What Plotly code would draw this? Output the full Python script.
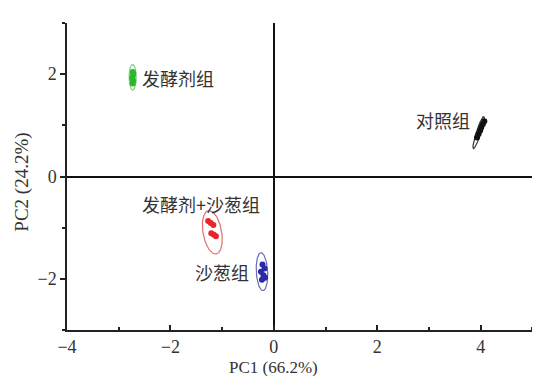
import numpy as np
import plotly.graph_objects as go

# Data
groups = ["发酵剂组", "对照组", "发酵剂+沙葱组", "沙葱组"]
colors = ["#2fb52f", "#111111", "#e8262a", "#2a2aa8"]
ell_colors = ["#7fd07f", "#333333", "#e07070", "#6a6ab8"]

green_x = [-2.73, -2.72, -2.74, -2.73, -2.72, -2.73]
green_y = [1.82, 1.87, 1.92, 1.96, 2.01, 2.04]
black_x = [3.93, 3.96, 3.99, 4.01, 4.04, 4.07]
black_y = [0.76, 0.83, 0.90, 0.96, 1.02, 1.08]
red_x = [-1.27, -1.22, -1.17, -1.21, -1.16, -1.12]
red_y = [-0.87, -0.91, -0.95, -1.11, -1.14, -1.17]
blue_x = [-0.22, -0.18, -0.25, -0.20, -0.17, -0.23]
blue_y = [-1.72, -1.80, -1.86, -1.93, -1.98, -2.02]

# ellipse parameters: centre, semi-major, semi-minor, angle (deg)
ell_cx = [-2.73, 3.96, -1.19, -0.23]
ell_cy = [1.94, 0.86, -1.09, -1.86]
ell_a = [0.25, 0.33, 0.43, 0.37]
ell_b = [0.07, 0.045, 0.18, 0.11]
ell_ang = [90, 72, 100, 93]

label_x = [-2.58, 3.83, -1.40, -0.44]
label_y = [1.92, 1.11, -0.54, -1.86]
label_anchor = ["left", "right", "center", "right"]

xs = [green_x, black_x, red_x, blue_x]
ys = [green_y, black_y, red_y, blue_y]

fig = go.Figure()
t = np.linspace(0, 2 * np.pi, 120)
for i in range(4):
    phi = np.deg2rad(ell_ang[i])
    ex = ell_cx[i] + ell_a[i] * np.cos(t) * np.cos(phi) - ell_b[i] * np.sin(t) * np.sin(phi)
    ey = ell_cy[i] + ell_a[i] * np.cos(t) * np.sin(phi) + ell_b[i] * np.sin(t) * np.cos(phi)
    fig.add_trace(go.Scatter(x=ex, y=ey, mode="lines",
                             line=dict(color=ell_colors[i], width=1.2),
                             showlegend=False, hoverinfo="skip"))
    fig.add_trace(go.Scatter(x=xs[i], y=ys[i], mode="markers",
                             marker=dict(color=colors[i], size=6),
                             showlegend=False, name=groups[i]))

for i in range(4):
    fig.add_annotation(x=label_x[i], y=label_y[i], text=groups[i], showarrow=False,
                       xanchor=label_anchor[i], yanchor="middle",
                       font=dict(family="Noto Sans CJK SC", size=18, color="#333333"))

tickfont = dict(family="Liberation Serif", size=18, color="#333333")
fig.update_xaxes(range=[-4, 5.05], showline=True, linecolor="#222", linewidth=1.5,
                 ticks="inside", ticklen=5, tickwidth=1.5, tickcolor="#222",
                 tick0=0, dtick=2, showgrid=False, zeroline=True,
                 zerolinecolor="#111", zerolinewidth=1.5, tickfont=tickfont,
                 minor=dict(ticks="inside", ticklen=3, dtick=1, tickcolor="#222"))
fig.update_yaxes(range=[-3, 3], showline=True, linecolor="#222", linewidth=1.5,
                 ticks="outside", ticklen=5, tickwidth=1.5, tickcolor="#222",
                 tick0=0, dtick=2, showgrid=False, zeroline=True,
                 zerolinecolor="#111", zerolinewidth=1.5, tickfont=tickfont,
                 minor=dict(ticks="outside", ticklen=3, dtick=1, tickcolor="#222"))

fig.add_annotation(x=0, y=0, xref="x", yref="paper", yanchor="top", yshift=-26,
                   text="PC1 (66.2%)", showarrow=False,
                   font=dict(family="Liberation Serif", size=17, color="#333333"))
fig.add_annotation(x=0, y=0.48, xref="paper", yref="paper", xanchor="right", xshift=-32,
                   text="PC2 (24.2%)", showarrow=False, textangle=-90,
                   font=dict(family="Liberation Serif", size=19, color="#333333"))

fig.update_layout(width=532, height=368, margin=dict(l=59, r=5, t=15, b=46),
                  plot_bgcolor="white", paper_bgcolor="white")
fig.write_html("out.html")
